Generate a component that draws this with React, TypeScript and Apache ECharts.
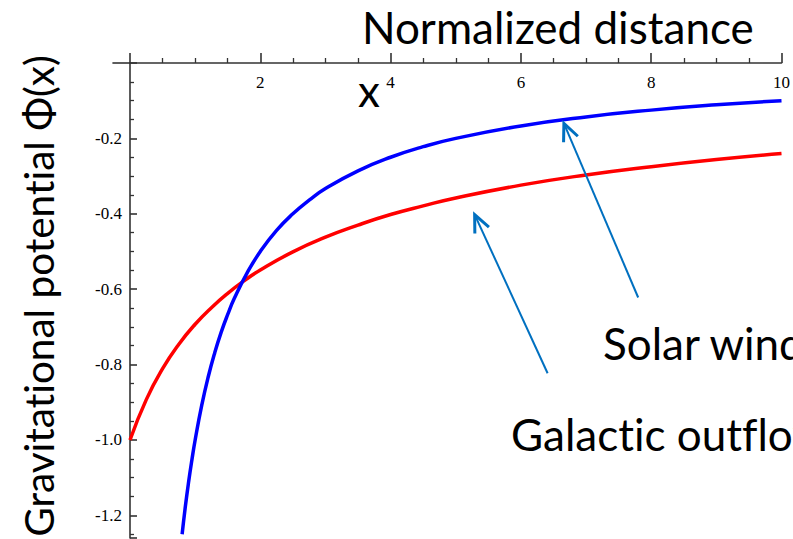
import { useEffect, useRef } from "react";
import * as echarts from "echarts";

// Normalized distance x and potential Φ(x) for the solar-wind profile
const solarX = [0.8, 0.85, 0.9, 0.95, 1.0, 1.1, 1.2, 1.3, 1.4, 1.5, 1.6, 1.8, 2.0, 2.25, 2.5, 2.75, 3.0, 3.5, 4.0, 4.5, 5.0, 6.0, 7.0, 8.0, 9.0, 10.0];
const solarPhi = [-1.25, -1.176, -1.111, -1.053, -1.0, -0.909, -0.833, -0.769, -0.714, -0.667, -0.625, -0.556, -0.5, -0.444, -0.4, -0.364, -0.333, -0.286, -0.25, -0.222, -0.2, -0.167, -0.143, -0.125, -0.111, -0.1];

// Normalized distance x and potential Φ(x) for the galactic-outflow profile
const galacticX = [0, 0.25, 0.5, 0.75, 1.0, 1.25, 1.5, 1.75, 2.0, 2.5, 3.0, 3.5, 4.0, 4.5, 5.0, 6.0, 7.0, 8.0, 9.0, 10.0];
const galacticPhi = [-1.0, -0.893, -0.811, -0.746, -0.693, -0.649, -0.611, -0.578, -0.549, -0.501, -0.462, -0.43, -0.402, -0.379, -0.358, -0.324, -0.297, -0.275, -0.256, -0.24];

// Callout labels and the arrows pointing from them to the curves (data coordinates)
const calloutLabels = ["Solar wind", "Galactic outflow"];
const arrowTips = [[6.66, -0.16], [5.29, -0.402]];
const arrowTails = [[7.8, -0.622], [6.41, -0.823]];

const AXIS_COLOR = "#333";
const TICK_FONT = "Liberation Serif";
const TEXT_FONT = "Lato";
const ARROW_COLOR = "#0070c0";

export default function App() {
  const ref = useRef<HTMLDivElement>(null);

  useEffect(() => {
    const chart = echarts.init(ref.current!, null, { renderer: "svg" });
    chart.setOption({
      animation: false,
      backgroundColor: "#ffffff",
      grid: { left: 130, right: 7, top: 63, bottom: 1, containLabel: false },
      xAxis: {
        type: "value",
        position: "top",
        min: 0,
        max: 10,
        interval: 2,
        axisLine: { show: true, onZero: false, lineStyle: { color: AXIS_COLOR, width: 1.6 } },
        axisTick: { show: true, inside: false, length: 10, lineStyle: { color: AXIS_COLOR, width: 1.6 } },
        minorTick: { show: true, splitNumber: 4, length: 5, lineStyle: { color: AXIS_COLOR, width: 1.3 } },
        axisLabel: {
          inside: true,
          showMinLabel: false,
          margin: 11,
          fontFamily: TICK_FONT,
          fontSize: 17,
          color: "#000",
        },
        splitLine: { show: false },
      },
      yAxis: {
        type: "value",
        position: "left",
        min: -1.26,
        max: 0,
        splitNumber: 6,
        axisLine: { show: true, onZero: false, lineStyle: { color: AXIS_COLOR, width: 1.6 } },
        axisTick: { show: true, inside: true, length: 7, lineStyle: { color: AXIS_COLOR, width: 1.6 } },
        minorTick: { show: true, splitNumber: 4, length: 4, lineStyle: { color: AXIS_COLOR, width: 1.3 } },
        axisLabel: {
          showMinLabel: false,
          showMaxLabel: false,
          margin: 8,
          fontFamily: TICK_FONT,
          fontSize: 17,
          color: "#000",
          formatter: (v: number) => v.toFixed(1),
        },
        splitLine: { show: false },
      },
      series: [
        {
          name: "Galactic outflow",
          type: "line",
          data: galacticX.map((x, i) => [x, galacticPhi[i]]),
          smooth: true,
          showSymbol: false,
          lineStyle: { color: "#ff0000", width: 3.5 },
          z: 2,
        },
        {
          name: "Solar wind",
          type: "line",
          data: solarX.map((x, i) => [x, solarPhi[i]]),
          smooth: true,
          showSymbol: false,
          lineStyle: { color: "#0000ff", width: 3.5 },
          z: 3,
        },
      ],
    });

    const toPx = (p: number[]) => chart.convertToPixel({ gridIndex: 0 }, p) as number[];

    // extension of the horizontal axis to the left of the vertical axis
    const axisStart = toPx([-0.27, 0]);
    const axisOrigin = toPx([0, 0]);

    const arrowEls: any[] = [];
    arrowTips.forEach((tip, i) => {
      const [tx, ty] = toPx(tip);
      const [sx, sy] = toPx(arrowTails[i]);
      const ang = Math.atan2(sy - ty, sx - tx);
      const len = 19;
      const spread = 0.42;
      arrowEls.push({
        type: "line",
        shape: { x1: sx, y1: sy, x2: tx, y2: ty },
        style: { stroke: ARROW_COLOR, lineWidth: 2 },
        z: 10,
      });
      arrowEls.push({
        type: "polyline",
        shape: {
          points: [
            [tx + len * Math.cos(ang - spread), ty + len * Math.sin(ang - spread)],
            [tx, ty],
            [tx + len * Math.cos(ang + spread), ty + len * Math.sin(ang + spread)],
          ],
        },
        style: { stroke: ARROW_COLOR, lineWidth: 3, fill: null },
        z: 10,
      });
    });

    const bigText = (text: string, x: number, y: number, size: number, extra: any = {}) => ({
      type: "text",
      x,
      y,
      z: 20,
      ...extra,
      style: {
        text,
        fill: "#000",
        fontFamily: TEXT_FONT,
        fontSize: size,
        textAlign: "left",
        textVerticalAlign: "middle",
        ...(extra.style || {}),
      },
    });

    chart.setOption({
      graphic: [
        {
          type: "line",
          shape: { x1: axisStart[0], y1: axisStart[1], x2: axisOrigin[0], y2: axisOrigin[1] },
          style: { stroke: AXIS_COLOR, lineWidth: 1.6 },
        },
        bigText("Normalized distance", 362, 27, 44),
        bigText("x", 358, 90, 44),
        bigText("Gravitational potential Φ(x)", 38, 296, 40.5, {
          rotation: Math.PI / 2,
          style: { textAlign: "center" },
        }),
        bigText(calloutLabels[0], 603, 343, 44),
        bigText(calloutLabels[1], 511, 434, 44),
        ...arrowEls,
      ],
    });

    return () => chart.dispose();
  }, []);

  return (
    <div
      ref={ref}
      style={{
        position: "absolute",
        left: 0,
        top: 0,
        width: 793,
        height: 539,
        fontFeatureSettings: '"liga" 0, "clig" 0, "dlig" 0',
      }}
    />
  );
}
